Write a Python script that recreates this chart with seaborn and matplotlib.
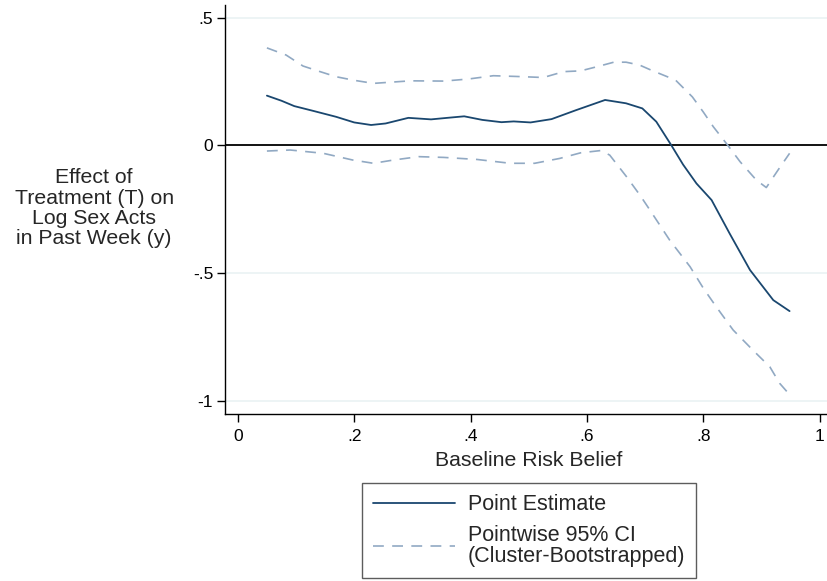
import numpy as np
import pandas as pd
import seaborn as sns
import matplotlib.pyplot as plt
from matplotlib.lines import Line2D

# values
est_x = [.05, .075, .097, .13, .169, .2, .229, .254, .293, .332, .36, .389, .42, .453, .474,
         .503, .539, .581, .631, .667, .695, .719, .745, .765, .788, .814, .845, .88, .92, .948]
est_y = [.195, .175, .154, .135, .112, .09, .08, .086, .108, .102, .108, .114, .10, .091, .094,
         .09, .103, .138, .178, .165, .145, .093, 0.0, -.075, -.149, -.214, -.345, -.488, -.606, -.649]

upper_x = [.05, .083, .112, .14, .169, .2, .233, .265, .297, .354, .396, .439, .48, .525, .56, .589,
           .62, .646, .667, .69, .71, .752, .781, .80, .817, .842, .863, .891, .908, .928, .948]
upper_y = [.382, .354, .311, .29, .269, .255, .243, .248, .253, .252, .26, .273, .27, .266, .289, .292,
           .31, .326, .326, .315, .295, .256, .19, .13, .073, 0.0, -.064, -.136, -.165, -.097, -.031]

lower_x = [.05, .09, .147, .197, .233, .268, .311, .354, .411, .468, .51, .553, .589, .624, .639,
           .668, .691, .708, .742, .777, .80, .822, .851, .885, .914, .931, .946]
lower_y = [-.022, -.018, -.031, -.057, -.07, -.057, -.044, -.047, -.055, -.07, -.07, -.051, -.029, -.02, -.038,
           -.123, -.195, -.253, -.371, -.475, -.56, -.632, -.723, -.802, -.867, -.932, -.971]

xticks = [0, .2, .4, .6, .8, 1]
xtick_labels = ["0", ".2", ".4", ".6", ".8", "1"]
yticks = [.5, 0, -.5, -1]
ytick_labels = [".5", "0", "-.5", "-1"]

navy = "#1a476f"
ci_col = "#91a9c3"

sns.set_style("white")
plt.rcParams['font.family'] = ['Liberation Sans', 'DejaVu Sans']

tick_fs = 12.5
title_fs = 15.3
legend_fs = 15.5

fig = plt.figure(figsize=(8.28, 5.81), dpi=100)
ax = fig.add_axes([225 / 828, (581 - 414) / 581, (828 - 225) / 828, (414 - 5) / 581])

# grid lines and the zero reference line
for v in [.5, -.5, -1]:
    ax.axhline(v, color="#eaf2f3", lw=1.2, zorder=0)
ax.axhline(0, color="black", lw=1.3, zorder=1)

dash = (0, (6.5, 5.0))
sns.lineplot(x=est_x, y=est_y, ax=ax, color=navy, lw=1.3, sort=False, zorder=3)
sns.lineplot(x=upper_x, y=upper_y, ax=ax, color=ci_col, lw=1.2, linestyle=dash, sort=False, zorder=2)
sns.lineplot(x=lower_x, y=lower_y, ax=ax, color=ci_col, lw=1.2, linestyle=dash, sort=False, zorder=2)

ax.set_xlim(-0.022, 1.014)
ax.set_ylim(-1.052, 0.55)
ax.set_xticks(xticks)
ax.set_xticklabels(xtick_labels)
ax.set_yticks(yticks)
ax.set_yticklabels(ytick_labels)
ax.tick_params(axis="both", bottom=True, left=True, direction="out", length=5.5, width=1,
               color="black", labelsize=tick_fs, labelcolor="black")
ax.tick_params(axis="x", pad=5.5)
ax.tick_params(axis="y", pad=3)

for s in ["top", "right"]:
    ax.spines[s].set_visible(False)
for s in ["left", "bottom"]:
    ax.spines[s].set_color("black")
    ax.spines[s].set_linewidth(1)

ax.set_xlabel("Baseline Risk Belief", fontsize=title_fs)
ax.xaxis.set_label_coords(0.504, -0.114)
ax.xaxis.label.set_va("center")
ax.set_ylabel("Effect of\nTreatment (T) on\nLog Sex Acts\nin Past Week (y)",
              rotation=0, fontsize=title_fs, ha="center", va="center", linespacing=1.08)
ax.yaxis.set_label_coords(-0.217, 0.503)

handles = [Line2D([], [], color=navy, lw=1.3),
           Line2D([], [], color=ci_col, lw=1.2, linestyle=dash)]
labels = ["Point Estimate", "Pointwise 95% CI\n(Cluster-Bootstrapped)"]
leg = ax.legend(handles, labels, loc="center", bbox_to_anchor=(529 / 828, 1 - 530.5 / 581),
                bbox_transform=fig.transFigure, frameon=True, fancybox=False, handlelength=3.8,
                handletextpad=0.6, borderpad=0.5, labelspacing=0.45, fontsize=legend_fs)
leg.get_frame().set_edgecolor("#333333")
leg.get_frame().set_linewidth(1)
for t in leg.get_texts():
    t.set_linespacing(1.0)

fig.savefig("out.png", dpi=100)
